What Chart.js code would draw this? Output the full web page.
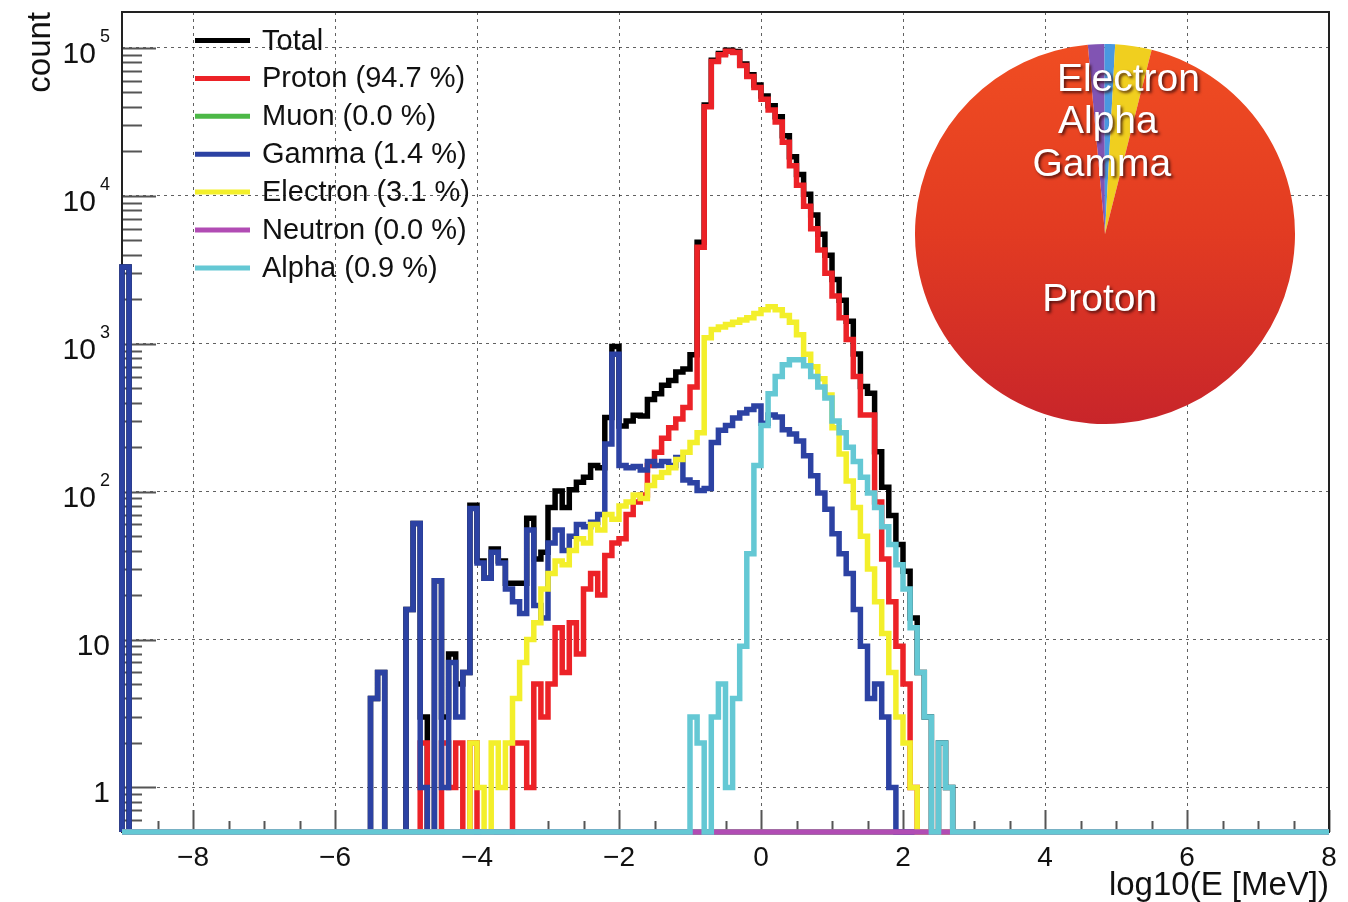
<!DOCTYPE html>
<html>
<head>
<meta charset="utf-8">
<title>Particle energy spectrum</title>
<script src="https://cdn.jsdelivr.net/npm/chart.js@4.4.1/dist/chart.umd.min.js"></script>
<style>
  html, body { margin: 0; padding: 0; background: #ffffff; }
  #wrap { position: relative; width: 1348px; height: 902px; overflow: hidden; }
  #spectrum { position: absolute; left: 0; top: 0; }
  #share { position: absolute; left: 915px; top: 44px; }
</style>
</head>
<body>
<div id="wrap">
  <canvas id="spectrum" width="1348" height="902"></canvas>
  <canvas id="share" width="380" height="380"></canvas>
</div>
<script>
// Binning of the energy histogram: log10(E / MeV), 0.1 wide bins
const X_MIN = -9, X_MAX = 8, BIN_WIDTH = 0.1;
const Y_MIN = 0.5, Y_MAX = 1.75e5;

const X_TICKS = [-8, -6, -4, -2, 0, 2, 4, 6, 8];
const X_TICK_LABELS = ['−8', '−6', '−4', '−2', '0', '2', '4', '6', '8'];
const Y_TICKS = [1, 10, 100, 1000, 10000, 100000];
const Y_TICK_LABELS = ['1', '10', '10^2', '10^3', '10^4', '10^5'];

const SPECIES = ['Proton', 'Muon', 'Gamma', 'Electron', 'Neutron', 'Alpha'];
const SHARE_PCT = [94.7, 0.0, 1.4, 3.1, 0.0, 0.9];

// Counts per bin. Each list starts at the bin whose low edge is *_FROM;
// bins outside a list are empty.
const TOTAL_FROM = -9.0;
const TOTAL = [
  3300, 0, 0, 0, 0, 0, 0, 0, 0, 0,
  0, 0, 0, 0, 0, 0, 0, 0, 0, 0,
  0, 0, 0, 0, 0, 0, 0, 0, 0, 0,
  0, 0, 0, 0, 0, 4, 6, 0, 0, 0,
  16, 61, 3, 0, 25, 3, 8, 5, 6, 81,
  34, 26, 41, 34, 24, 24, 24, 66, 35, 39,
  78, 101, 78, 103, 116, 125, 150, 145, 317, 960,
  278, 300, 328, 325, 420, 460, 525, 565, 645, 675,
  843, 4850, 41200, 82500, 91600, 96600, 94700, 77800, 65900, 56100,
  47300, 40600, 34200, 25500, 18400, 13950, 10240, 7430, 5490, 3960,
  2720, 1970, 1420, 854, 514, 462, 186, 107, 69, 44,
  29, 14, 6, 3, 0, 2, 1
];

const PROTON_FROM = -4.8;
const PROTON = [
  2, 0, 0, 2, 1, 2, 0, 2,
  0, 0, 0, 0, 0, 2, 2, 1, 5, 3,
  5, 12, 6, 13, 8, 22, 28, 20, 37, 45,
  48, 70, 85, 95, 150, 185, 230, 270, 310, 370,
  510, 4500, 40000, 81000, 90000, 95000, 93000, 76000, 64000, 54000,
  45000, 38000, 31600, 23000, 16000, 11800, 8500, 6000, 4300, 3000,
  2100, 1500, 1070, 600, 330, 330, 85, 35, 18, 9,
  5, 1
];

const MUON_FROM = -9.0;
const MUON = [];

const GAMMA_FROM = -9.0;
const GAMMA = [
  3300, 0, 0, 0, 0, 0, 0, 0, 0, 0,
  0, 0, 0, 0, 0, 0, 0, 0, 0, 0,
  0, 0, 0, 0, 0, 0, 0, 0, 0, 0,
  0, 0, 0, 0, 0, 4, 6, 0, 0, 0,
  16, 61, 1, 0, 25, 1, 7, 3, 6, 77,
  33, 26, 39, 33, 22, 18, 15, 55, 17, 14,
  45, 55, 40, 50, 60, 58, 62, 70, 210, 850,
  150, 145, 148, 140, 160, 150, 160, 150, 170, 120,
  115, 102, 105, 215, 260, 280, 315, 340, 360, 380,
  290, 330, 320, 262, 245, 220, 175, 128, 98, 76,
  52, 38, 28, 16, 9, 4, 5, 3, 1
];

const ELECTRON_FROM = -4.1;
const ELECTRON = [
  2,
  1, 0, 2, 1, 2, 4, 7, 10, 13, 22,
  28, 34, 32, 40, 48, 45, 60, 55, 70, 65,
  80, 85, 95, 90, 110, 125, 135, 145, 165, 185,
  215, 250, 1100, 1250, 1300, 1350, 1400, 1450, 1500, 1600,
  1700, 1780, 1700, 1550, 1400, 1150, 850, 700, 580, 450,
  270, 180, 118, 78, 50, 30, 18, 11, 6, 3,
  2, 1
];

const NEUTRON_FROM = -9.0;
const NEUTRON = [];

const ALPHA_FROM = -1.0;
const ALPHA = [
  3, 2, 0, 3, 5, 1, 4, 9, 38, 150,
  280, 460, 600, 720, 780, 780, 710, 600, 510, 430,
  300, 250, 200, 160, 125, 98, 78, 58, 44, 32,
  22, 12, 6, 3, 0, 2, 1
];

// Order of the inset pie slices, clockwise from just left of 12 o'clock
const PIE_ORDER = ['Gamma', 'Alpha', 'Electron', 'Proton'];

// ---------- styling ----------
const FONT = '"Liberation Sans", Arial, Helvetica, sans-serif';
const INK = '#111111';
const LINE_COLORS = {
  Total: '#000000', Proton: '#EC2227', Muon: '#4CB847', Gamma: '#2C42A3',
  Electron: '#F3EF2B', Neutron: '#B14CB4', Alpha: '#64C8D4'
};
const PIE_COLORS = { Gamma: '#8154B3', Alpha: '#4A98E0', Electron: '#F0CF1F', Proton: '#E23C22' };
const PIE_LABEL_RADIUS = { Electron: 0.82, Alpha: 0.59, Gamma: 0.36, Proton: 0.35 };

Chart.defaults.font.family = FONT;
Chart.defaults.color = INK;

const N_BINS = Math.round((X_MAX - X_MIN) / BIN_WIDTH);

// Step outline of a histogram: one point per bin low edge, empty bins sit on the axis floor
function histogramPoints(from, counts) {
  const offset = Math.round((from - X_MIN) / BIN_WIDTH);
  const pts = [{ x: X_MIN, y: Y_MIN }];
  for (let k = 0; k < N_BINS; k++) {
    const j = k - offset;
    const c = (j >= 0 && j < counts.length) ? counts[j] : 0;
    pts.push({ x: X_MIN + k * BIN_WIDTH, y: c > 0 ? c : Y_MIN });
  }
  pts.push({ x: X_MAX, y: Y_MIN });
  return pts;
}

function share(name) { return SHARE_PCT[SPECIES.indexOf(name)]; }

const HISTOS = [
  ['Total', TOTAL_FROM, TOTAL],
  ['Proton', PROTON_FROM, PROTON],
  ['Muon', MUON_FROM, MUON],
  ['Gamma', GAMMA_FROM, GAMMA],
  ['Electron', ELECTRON_FROM, ELECTRON],
  ['Neutron', NEUTRON_FROM, NEUTRON],
  ['Alpha', ALPHA_FROM, ALPHA]
];

const datasets = HISTOS.map(([name, from, counts], i) => ({
  label: name === 'Total' ? 'Total' : `${name} (${share(name).toFixed(1)} %)`,
  data: histogramPoints(from, counts),
  borderColor: LINE_COLORS[name],
  backgroundColor: LINE_COLORS[name],
  borderWidth: 5.5,
  stepped: true,
  fill: false,
  pointRadius: 0,
  clip: false,
  order: -i
}));

// Frame, tick marks, exponent labels and the legend block
const rootStyle = {
  id: 'rootStyle',
  beforeDatasetsDraw(chart) {
    const { ctx, chartArea: a, scales: { x, y } } = chart;
    ctx.save();
    ctx.strokeStyle = '#555555';
    ctx.lineWidth = 2;
    for (let e = -1; e <= 5; e++) {
      for (let m = 1; m <= 9; m++) {
        const v = m * Math.pow(10, e);
        if (v < Y_MIN || v > Y_MAX) continue;
        const py = Math.round(y.getPixelForValue(v)) + 0.5;
        ctx.beginPath();
        ctx.moveTo(a.left, py);
        ctx.lineTo(a.left + (m === 1 ? 34 : 20), py);
        ctx.stroke();
      }
    }
    const nHalf = Math.round((X_MAX - X_MIN) / 0.5);
    for (let i = 0; i <= nHalf; i++) {
      const v = X_MIN + i * 0.5;
      const px = Math.round(x.getPixelForValue(v)) + 0.5;
      const len = (v % 2 === 0) ? 22 : 11;
      ctx.beginPath();
      ctx.moveTo(px, a.bottom);
      ctx.lineTo(px, a.bottom - len);
      ctx.stroke();
    }
    ctx.strokeStyle = '#222222';
    ctx.lineWidth = 2;
    ctx.strokeRect(a.left, a.top, a.right - a.left, a.bottom - a.top);
    ctx.restore();
  },
  afterDraw(chart) {
    const { ctx, chartArea: a, scales: { y } } = chart;
    ctx.save();
    ctx.fillStyle = INK;
    ctx.textBaseline = 'alphabetic';
    ctx.textAlign = 'right';
    const right = a.left - 12;
    Y_TICKS.forEach((v, i) => {
      const [base, exp] = Y_TICK_LABELS[i].split('^');
      const py = y.getPixelForValue(v);
      let xEnd = right;
      if (exp) {
        ctx.font = `18px ${FONT}`;
        ctx.fillText(exp, right, py - 6);
        xEnd = right - ctx.measureText(exp).width - 4;
      }
      ctx.font = `30px ${FONT}`;
      ctx.fillText(base, xEnd, py + 15);
    });

    ctx.textAlign = 'left';
    ctx.font = `29px ${FONT}`;
    chart.data.datasets.forEach((ds, i) => {
      const ly = 40.5 + i * 37.9;
      ctx.strokeStyle = ds.borderColor;
      ctx.lineWidth = 5;
      ctx.beginPath();
      ctx.moveTo(195, ly);
      ctx.lineTo(250, ly);
      ctx.stroke();
      ctx.fillText(ds.label, 262, ly + 9);
    });
    ctx.restore();
  }
};

const GRID_COLOR = 'rgba(30,30,30,0.7)';

new Chart(document.getElementById('spectrum'), {
  type: 'line',
  data: { datasets },
  options: {
    responsive: false,
    animation: false,
    devicePixelRatio: 1,
    events: [],
    layout: { padding: { top: 12, right: 19, bottom: 0, left: 0 } },
    plugins: { legend: { display: false }, tooltip: { enabled: false } },
    scales: {
      x: {
        type: 'linear', min: X_MIN, max: X_MAX,
        afterBuildTicks: s => { s.ticks = X_TICKS.map(v => ({ value: v })); },
        afterFit: s => { s.height = 70; },
        grid: { color: GRID_COLOR, lineWidth: 1, drawTicks: false },
        border: { display: false, dash: [3, 4] },
        ticks: {
          autoSkip: false, maxRotation: 0, padding: 9, color: INK,
          font: { size: 28 },
          callback: (v, i) => X_TICK_LABELS[i]
        },
        title: {
          display: true, text: 'log10(E [MeV])', align: 'end', color: INK,
          font: { size: 33, lineHeight: 1 }, padding: 0
        }
      },
      y: {
        type: 'logarithmic', min: Y_MIN, max: Y_MAX,
        afterBuildTicks: s => { s.ticks = Y_TICKS.map(v => ({ value: v })); },
        afterFit: s => { s.width = 122; },
        grid: { color: GRID_COLOR, lineWidth: 1, drawTicks: false },
        border: { display: false, dash: [3, 4] },
        ticks: { display: false },
        title: {
          display: true, text: 'count', align: 'end', color: INK,
          font: { size: 33, lineHeight: 1 }, padding: { top: 24, bottom: 0 }
        }
      }
    }
  },
  plugins: [rootStyle]
});

// Inset pie of species shares
const pieLabels = {
  id: 'pieLabels',
  afterDatasetsDraw(chart) {
    const { ctx } = chart;
    const meta = chart.getDatasetMeta(0);
    ctx.save();
    ctx.font = `39px ${FONT}`;
    ctx.textAlign = 'center';
    ctx.textBaseline = 'middle';
    ctx.fillStyle = '#ffffff';
    ctx.shadowColor = 'rgba(50,10,10,0.8)';
    ctx.shadowOffsetX = 2;
    ctx.shadowOffsetY = 2;
    ctx.shadowBlur = 3;
    meta.data.forEach((arc, i) => {
      const name = chart.data.labels[i];
      const f = PIE_LABEL_RADIUS[name];
      if (f === undefined) return;
      const p = arc.getProps(['x', 'y', 'startAngle', 'endAngle', 'outerRadius'], true);
      const mid = (p.startAngle + p.endAngle) / 2;
      ctx.fillText(name, p.x + Math.cos(mid) * p.outerRadius * f, p.y + Math.sin(mid) * p.outerRadius * f);
    });
    ctx.restore();
  }
};

new Chart(document.getElementById('share'), {
  type: 'pie',
  data: {
    labels: PIE_ORDER,
    datasets: [{
      data: PIE_ORDER.map(share),
      borderWidth: 0,
      backgroundColor: c => {
        const name = PIE_ORDER[c.dataIndex];
        if (name !== 'Proton') return PIE_COLORS[name];
        const area = c.chart.chartArea;
        if (!area) return PIE_COLORS.Proton;
        const g = c.chart.ctx.createLinearGradient(0, area.top, 0, area.bottom);
        g.addColorStop(0, '#F04D22');
        g.addColorStop(0.5, '#E23B22');
        g.addColorStop(1, '#C8252A');
        return g;
      }
    }]
  },
  options: {
    responsive: false,
    animation: false,
    devicePixelRatio: 1,
    events: [],
    rotation: -5.2,
    layout: { padding: 0 },
    plugins: { legend: { display: false }, tooltip: { enabled: false } }
  },
  plugins: [pieLabels]
});
</script>
</body>
</html>
